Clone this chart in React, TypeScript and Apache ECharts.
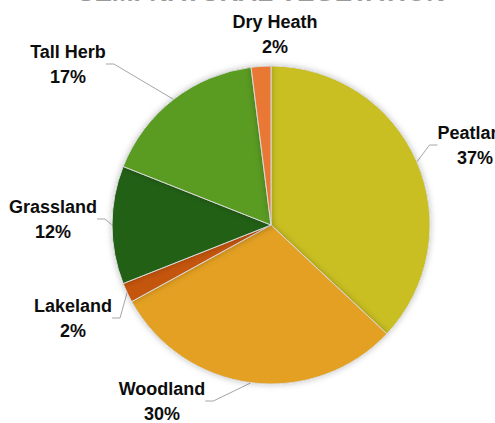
import React, { useEffect, useRef } from "react";
import * as echarts from "echarts";

const categories = ["Peatland", "Woodland", "Lakeland", "Grassland", "Tall Herb", "Dry Heath"];
const values = [37, 30, 2, 12, 17, 2];
const colors = ["#C9BF22", "#E3A024", "#C45511", "#236114", "#5A9B23", "#EA7834"];
const titleText = "SEMI-NATURAL VEGETATION";

// label block centres (layout styling, px)
const labelPos: [number, number][] = [
  [475, 145],
  [162, 401],
  [73, 318],
  [53, 219],
  [68, 64],
  [275, 34],
];

export default function App() {
  const ref = useRef<HTMLDivElement>(null);
  useEffect(() => {
    document.body.style.margin = "0";
    const chart = echarts.init(ref.current!, null, { renderer: "svg" });
    chart.setOption({
      animation: false,
      backgroundColor: "#ffffff",
      graphic: [
        {
          type: "text",
          x: 261,
          y: -8,
          style: {
            text: titleText,
            font: "bold 26px 'Liberation Sans', Arial, sans-serif",
            fill: "#9a9a9a",
            align: "center",
            verticalAlign: "middle",
          },
        },
      ],
      series: [
        {
          type: "pie",
          center: [271, 225],
          radius: 159,
          startAngle: 90,
          clockwise: true,
          data: categories.map((c, i) => ({
            name: c,
            value: values[i],
            itemStyle: { color: colors[i] },
            labelLine: i === 5 ? { show: false } : undefined,
          })),
          itemStyle: {
            borderColor: "#d9d9d9",
            borderWidth: 1,
            shadowBlur: 6,
            shadowColor: "rgba(0,0,0,0.25)",
          },
          label: {
            show: true,
            position: "outside",
            formatter: "{b}\n{d}%",
            color: "#0d0d0d",
            fontFamily: "'Liberation Sans', Arial, sans-serif",
            fontWeight: "bold",
            fontSize: 18,
            lineHeight: 25,
            overflow: "none",
          },
          labelLine: {
            show: true,
            length: 20,
            length2: 8,
            lineStyle: { color: "#a6a6a6", width: 1 },
          },
          labelLayout: (p: any) => {
            const pos = labelPos[p.dataIndex];
            return { x: pos[0], y: pos[1], align: "center", verticalAlign: "middle" };
          },
        },
      ],
    });
    return () => chart.dispose();
  }, []);
  return <div ref={ref} style={{ width: 495, height: 423 }} />;
}
